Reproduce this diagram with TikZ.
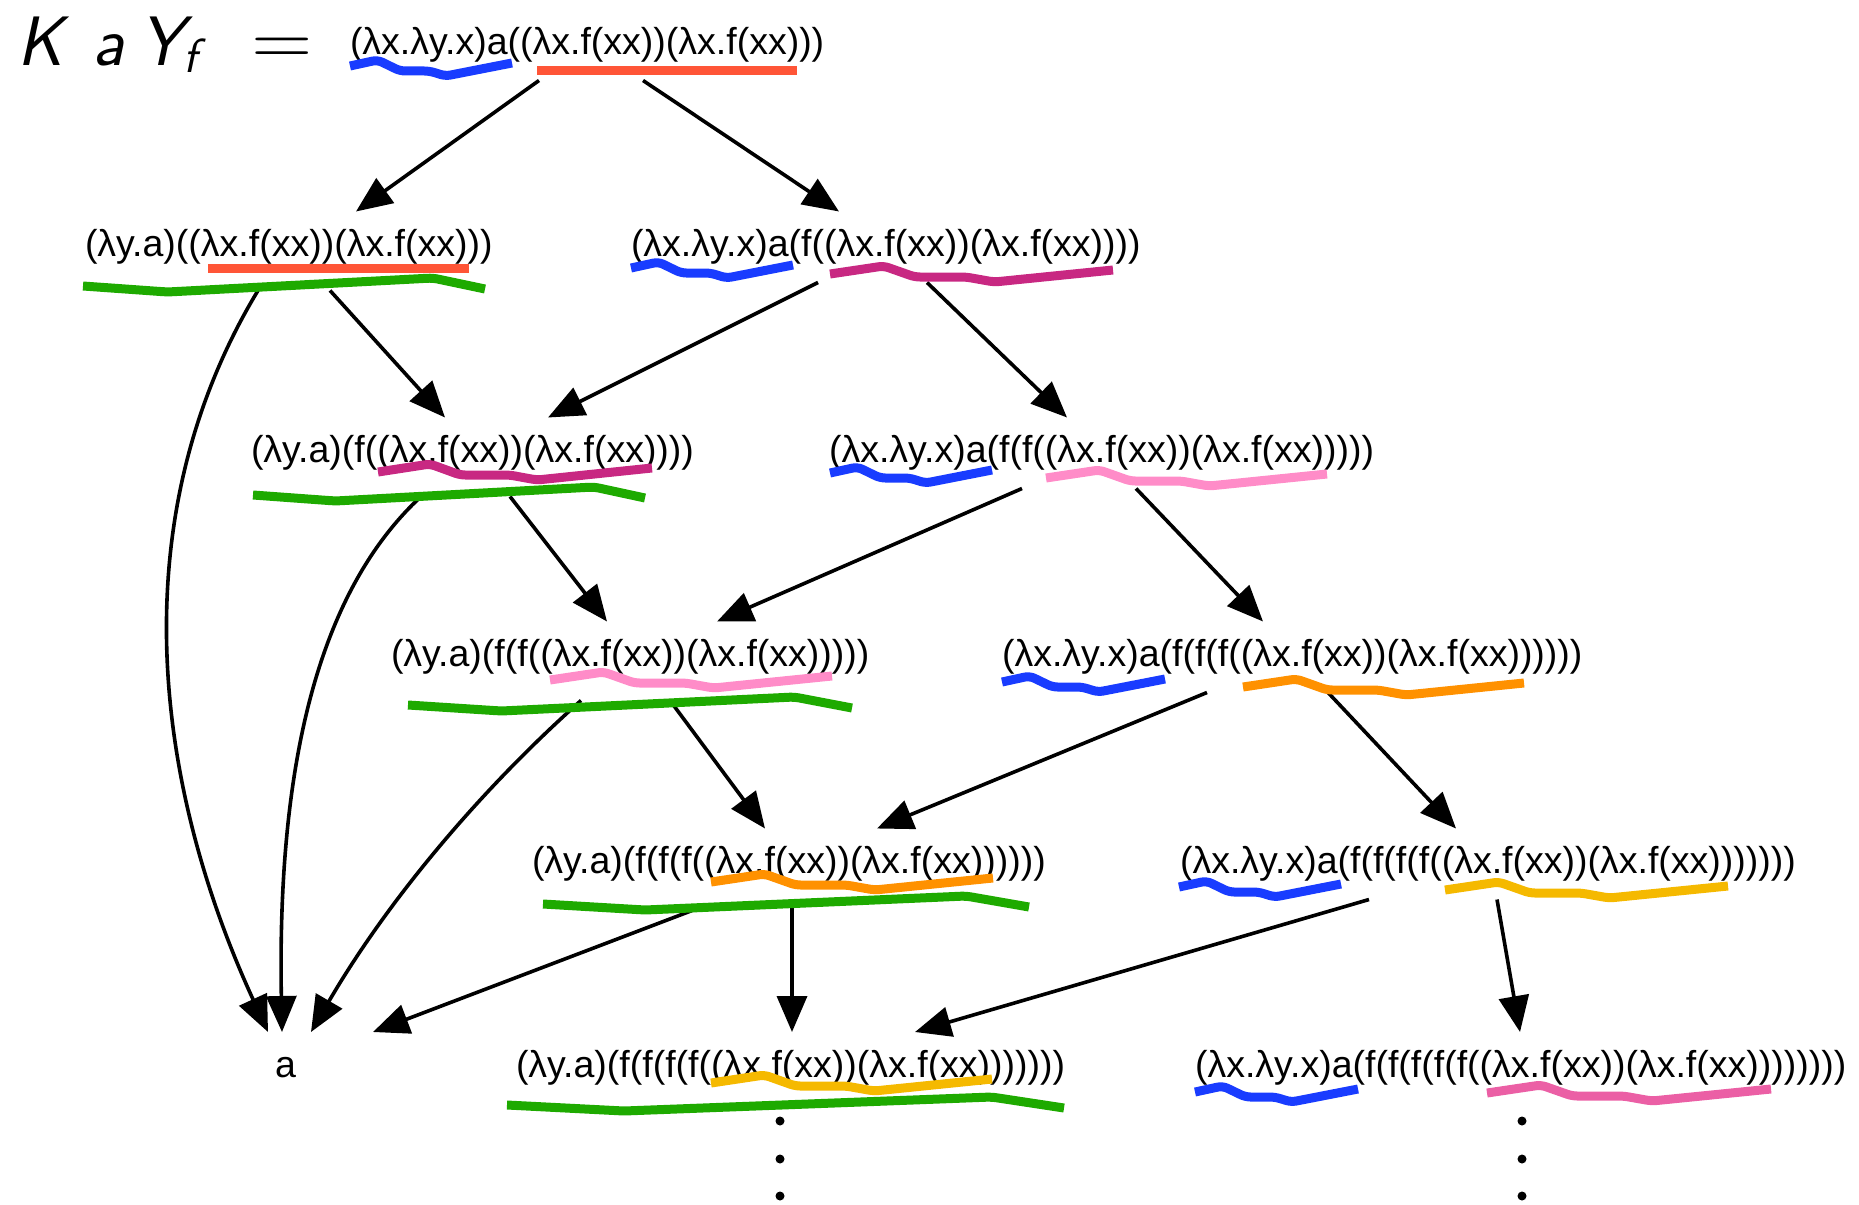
\documentclass[tikz,border=0pt]{standalone}
\usepackage{graphicx}
\usepackage{fontspec}
\setmainfont{Liberation Sans}
\usetikzlibrary{arrows.meta}
\usetikzlibrary{positioning}

\definecolor{wblue}{RGB}{25,60,255}
\definecolor{wred}{RGB}{255,85,55}
\definecolor{wgreen}{RGB}{30,170,0}
\definecolor{wmagenta}{RGB}{200,40,130}
\definecolor{wpink}{RGB}{255,140,200}
\definecolor{worange}{RGB}{255,145,0}
\definecolor{wyellow}{RGB}{245,185,0}
\definecolor{wrose}{RGB}{235,95,165}

% squiggly underlines: {x start}{x end}{y}
\newcommand{\bluewave}[3]{\draw[wave, wblue] (#1,#3) -- ({#1+.17*(#2-#1)},{#3-6}) -- ({#1+.31*(#2-#1)},{#3+5}) -- ({#1+.49*(#2-#1)},{#3+5}) -- ({#1+.59*(#2-#1)},{#3+10}) -- (#2,{#3-3});}
\newcommand{\redexwave}[4]{\draw[wave, #1] (#2,#4) -- ({#2+.19*(#3-#2)},{#4-8}) -- ({#2+.30*(#3-#2)},{#4+3}) -- ({#2+.48*(#3-#2)},{#4+3}) -- ({#2+.58*(#3-#2)},{#4+8}) -- (#3,{#4-4});}
\newcommand{\greenwave}[3]{\draw[wave, wgreen] (#1,#3) -- ({#1+.21*(#2-#1)},{#3+6}) -- ({#1+.87*(#2-#1)},{#3-8}) -- (#2,{#3+3});}

\begin{document}
\begin{tikzpicture}[x=1pt, y=-1pt,
    term/.style={anchor=base west, inner sep=0pt, outer sep=0pt, font=\fontsize{37.5}{40}\selectfont, text height=45pt, text depth=26pt},
    lterm/.style={term, text depth=34pt},
    arr/.style={line width=3.6pt, -{Triangle[length=36pt,width=30pt]}},
    wave/.style={line width=9pt, line join=round, rounded corners=5pt}]
  \useasboundingbox (0,0) rectangle (1859,1204);
  \node[anchor=base west, inner sep=0pt, font=\fontsize{70}{74}\selectfont\sffamily\slshape] (lhs) at (17,66) {K\hspace{30pt}a\hspace{15pt}Y\raisebox{-7pt}{\fontsize{48}{50}\selectfont f}} ; %
  \node[base right=54pt of lhs, inner sep=0pt, font=\fontsize{70}{74}\selectfont\sffamily\upshape] (eq) {\scalebox{1.2}[1.1]{=}} ; %
  \node[term] (t0) at (350,54.5) {(λx.λy.x)a((λx.f(xx))(λx.f(xx)))} ; %
  \node[lterm] (l1) at (85,256.5) {(λy.a)((λx.f(xx))(λx.f(xx)))} ; %
  \node[term] (r1) at (631,256.5) {(λx.λy.x)a(f((λx.f(xx))(λx.f(xx))))} ; %
  \node[lterm] (l2) at (251,462.5) {(λy.a)(f((λx.f(xx))(λx.f(xx))))} ; %
  \node[term] (r2) at (829,462.5) {(λx.λy.x)a(f(f((λx.f(xx))(λx.f(xx)))))} ; %
  \node[lterm] (l3) at (391,666.5) {(λy.a)(f(f((λx.f(xx))(λx.f(xx)))))} ; %
  \node[term] (r3) at (1002,666.5) {(λx.λy.x)a(f(f(f((λx.f(xx))(λx.f(xx))))))} ; %
  \node[lterm] (l4) at (532,873.5) {(λy.a)(f(f(f((λx.f(xx))(λx.f(xx))))))} ; %
  \node[term] (r4) at (1180,873.5) {(λx.λy.x)a(f(f(f(f((λx.f(xx))(λx.f(xx)))))))} ; %
  \node[lterm] (l5) at (516,1077) {(λy.a)(f(f(f(f((λx.f(xx))(λx.f(xx)))))))} ; %
  \node[term] (r5) at (1195,1077) {(λx.λy.x)a(f(f(f(f(f((λx.f(xx))(λx.f(xx))))))))} ; %
  \node[term] (a) at (275,1077) {a} ; %
  % reductions
  \draw[arr] (t0.south -| 539,0) -- (l1.north -| 356,0);
  \draw[arr] (t0.south -| 643,0) -- (r1.north -| 839,0);
  \draw[arr] (l1.south -| 258,0) .. controls (123,514) and (151,777) .. (a.north -| 268,0);
  \draw[arr] (l1.south -| 330,0) -- (l2.north -| 445,0);
  \draw[arr] (r1.south -| 818,0) -- (l2.north -| 548,0);
  \draw[arr] (r1.south -| 927,0) -- (r2.north -| 1067,0);
  \draw[arr] (l2.south -| 421,0) .. controls (320,590) and (277,760) .. (a.north -| 282,0);
  \draw[arr] (l2.south -| 510,0) -- (l3.north -| 607,0);
  \draw[arr] (r2.south -| 1022,0) -- (l3.north -| 717,0);
  \draw[arr] (r2.south -| 1136,0) -- (r3.north -| 1263,0);
  \draw[arr] (l3.south -| 581,0) .. controls (475,795) and (385,905) .. (a.north -| 311,0);
  \draw[arr] (l3.south -| 670,0) -- (l4.north -| 765,0);
  \draw[arr] (r3.south -| 1207,0) -- (l4.north -| 877,0);
  \draw[arr] (r3.south -| 1328,0) -- (r4.north -| 1456,0);
  \draw[arr] (l4.south -| 700,0) -- (a.north -| 373,0);
  \draw[arr] (l4.south -| 792,0) -- (l5.north -| 792,0);
  \draw[arr] (r4.south -| 1369,0) -- (l5.north -| 915,0);
  \draw[arr] (r4.south -| 1497,0) -- (r5.north -| 1520,0);
  \foreach \y in {1121,1159,1196} {\fill (780,\y) circle (4.5); \fill (1522,\y) circle (4.5);}
  % redexes
  \bluewave{350}{512}{66}
  \draw[wave, wred] (537,71) -- (797,71);
  \draw[wave, wred] (208,268) -- (469,268);
  \greenwave{83}{485}{286}
  \bluewave{631}{793}{268}
  \redexwave{wmagenta}{830}{1113}{274}
  \redexwave{wmagenta}{378}{652}{472}
  \greenwave{253}{645}{495}
  \bluewave{830}{992}{473}
  \redexwave{wpink}{1046}{1327}{478}
  \redexwave{wpink}{550}{832}{680}
  \greenwave{408}{852}{705}
  \bluewave{1002}{1165}{682}
  \redexwave{worange}{1243}{1524}{687}
  \redexwave{worange}{711}{993}{882}
  \greenwave{543}{1029}{904}
  \bluewave{1179}{1341}{887}
  \redexwave{wyellow}{1445}{1728}{890}
  \redexwave{wyellow}{711}{992}{1083}
  \greenwave{507}{1064}{1105}
  \bluewave{1195}{1358}{1092}
  \redexwave{wrose}{1487}{1771}{1093}
\end{tikzpicture}
\end{document}
